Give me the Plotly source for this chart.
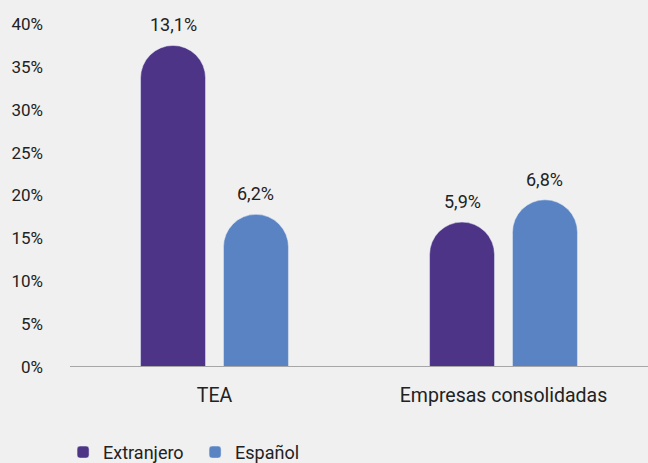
import plotly.graph_objects as go

categories = ["TEA", "Empresas consolidadas"]
series_names = ["Extranjero", "Español"]
extranjero_heights = [37.5, 16.9]
espanol_heights = [17.8, 19.5]
extranjero_labels = ["13,1%", "5,9%"]
espanol_labels = ["6,2%", "6,8%"]
tick_vals = [0, 5, 10, 15, 20, 25, 30, 35, 40]
tick_text = ["0%", "5%", "10%", "15%", "20%", "25%", "30%", "35%", "40%"]

colors = ["#4e3487", "#5a83c3"]
font_family = "Roboto"
W, H = 648, 463
ML, MR, MT, MB = 70, 0, 24, 96
BARGAP, BARGROUPGAP = 0.426, 0.217

fig = go.Figure()
series = [
    (series_names[0], extranjero_heights, extranjero_labels, colors[0]),
    (series_names[1], espanol_heights, espanol_labels, colors[1]),
]
for name, vals, labels, col in series:
    fig.add_trace(go.Bar(
        x=categories, y=vals, name=name, marker_color=col,
        hoverinfo="skip",
    ))

# value labels above bars
plot_w = W - ML - MR
cat_w = plot_w / len(categories)
slot = cat_w * (1 - BARGAP) / len(series)
annotations = []
for si, (name, vals, labels, col) in enumerate(series):
    shift = (si - (len(series) - 1) / 2) * slot
    for cat, v, lab in zip(categories, vals, labels):
        annotations.append(dict(
            x=cat, y=v, text=lab, showarrow=False, xshift=shift,
            yanchor="bottom", yshift=8,
            font=dict(size=18, color="#222222", family=font_family),
        ))

fig.update_layout(
    width=W, height=H,
    margin=dict(l=ML, r=MR, t=MT, b=MB, autoexpand=False),
    paper_bgcolor="#f0f0f0", plot_bgcolor="#f0f0f0",
    barmode="group", bargap=BARGAP, bargroupgap=BARGROUPGAP,
    barcornerradius="50%",
    font=dict(family=font_family, size=17, color="#222222"),
    showlegend=True,
    annotations=annotations,
    shapes=[dict(type="line", xref="x", x0=-0.5, x1=len(categories) - 0.5,
                 yref="y", y0=0, y1=0,
                 line=dict(color="#a6a6a6", width=2), layer="above")],
    legend=dict(orientation="h", x=-0.012, xanchor="left", y=-0.195, yanchor="top",
                entrywidth=87,
                font=dict(size=18, family=font_family), bgcolor="rgba(0,0,0,0)"),
    xaxis=dict(showline=False, showgrid=False, zeroline=False,
               range=[-0.5, len(categories) - 0.5],
               ticks="", ticklabelstandoff=14,
               tickfont=dict(size=19.5, family=font_family)),
    yaxis=dict(range=[0, 40], tickvals=tick_vals, ticktext=tick_text, showgrid=False,
               zeroline=False, showline=False, ticks="", ticklabelstandoff=26,
               tickfont=dict(size=17, family=font_family)),
)

fig.write_html("out.html", config={"displayModeBar": False},
               post_script="document.body.style.margin='0';document.body.style.background='#f0f0f0';")
